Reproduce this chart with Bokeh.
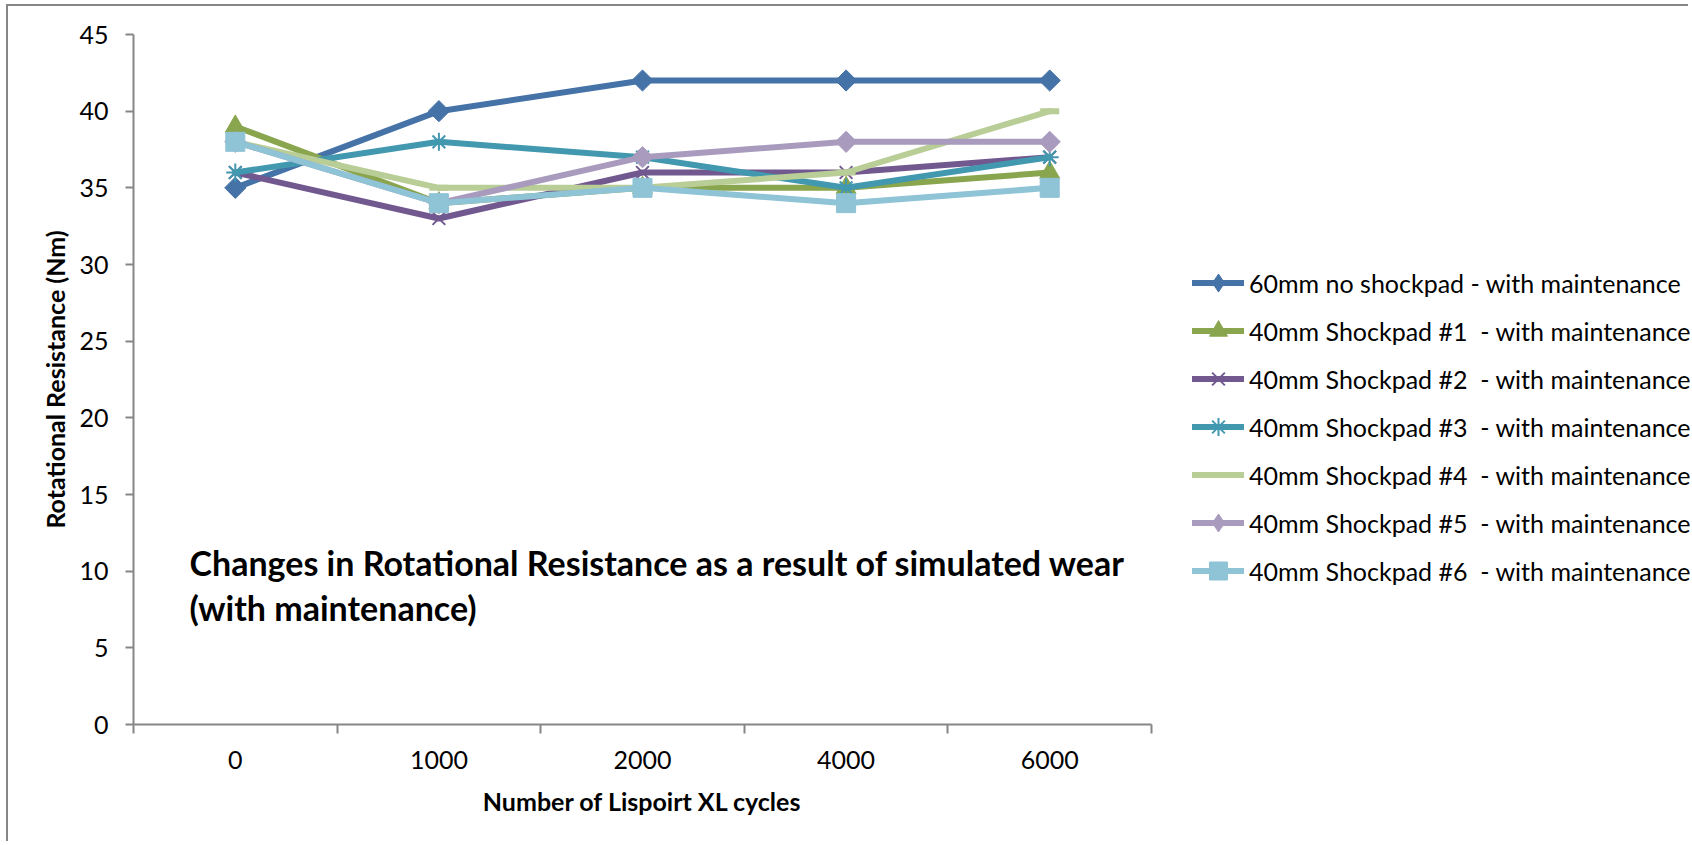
import numpy as np
from bokeh.plotting import figure
from bokeh.models import Range1d, FixedTicker, Legend, LegendItem, Label, LinearAxis
from bokeh.embed import file_html
from bokeh.resources import INLINE

# ---- data -------------------------------------------------------------
cycles = ["0", "1000", "2000", "4000", "6000"]

no_shockpad_60 = [35, 40, 42, 42, 42]
shockpad_1 = [39, 34, 35, 35, 36]
shockpad_2 = [36, 33, 36, 36, 37]
shockpad_3 = [36, 38, 37, 35, 37]
shockpad_4 = [38, 35, 35, 36, 40]
shockpad_5 = [38, 34, 37, 38, 38]
shockpad_6 = [38, 34, 35, 34, 35]

series_names = [
    "60mm no shockpad - with maintenance",
    "40mm Shockpad #1  - with maintenance",
    "40mm Shockpad #2  - with maintenance",
    "40mm Shockpad #3  - with maintenance",
    "40mm Shockpad #4  - with maintenance",
    "40mm Shockpad #5  - with maintenance",
    "40mm Shockpad #6  - with maintenance",
]
series_values = [no_shockpad_60, shockpad_1, shockpad_2, shockpad_3,
                 shockpad_4, shockpad_5, shockpad_6]

y_ticks = [0, 5, 10, 15, 20, 25, 30, 35, 40, 45]

title_line_1 = "Changes in Rotational Resistance as a result of simulated wear"
title_line_2 = "(with maintenance)"
x_title = "Number of Lispoirt XL cycles"
y_title = "Rotational Resistance (Nm)"

# ---- styling ----------------------------------------------------------
FONT = "Lato"
AXIS_GREY = "#868686"
# (colour, plot marker, plot size, angle, legend marker, marker line width)
styles = [
    ("#4572A7", "square", 15, np.pi / 4, "diamond", 1),
    ("#89A54E", "triangle", 20, 0.0, "triangle", 1),
    ("#71588F", "x", 18, 0.0, "x", 2),
    ("#4198AF", "asterisk", 18, 0.0, "asterisk", 2),
    ("#B9CD96", "dash", 19, 0.0, "dash", 6),
    ("#A99BBD", "square", 15, np.pi / 4, "diamond", 1),
    ("#8FC3D6", "square", 19, 0.0, "square", 1),
]

n = len(cycles)
xs = [i + 0.5 for i in range(n)]  # category centres on a 0..n axis

# The frame runs under the legend too; the category axis only covers
# the left CAT_W pixels of it (axis bounds 0..n).
FIG_W = 1682
FRAME_W = FIG_W - 125
CAT_W = 1018
x_end = n * FRAME_W / CAT_W

p = figure(
    width=FIG_W, height=837,
    x_range=Range1d(0, x_end), y_range=Range1d(0, 45),
    output_backend="svg", toolbar_location=None,
    min_border_left=125, min_border_right=0,
    min_border_top=28, min_border_bottom=119,
)
p.margin = (4, 0, 0, 6)
p.styles = {"border-left": f"2px solid {AXIS_GREY}", "border-top": f"2px solid {AXIS_GREY}"}
p.outline_line_color = None
p.background_fill_color = "white"
p.border_fill_color = "white"
p.xgrid.visible = False
p.ygrid.visible = False

# x axis: labels at category centres, tick marks between categories
xa = p.xaxis[0]
xa.bounds = (0, n)
xa.ticker = FixedTicker(ticks=xs, minor_ticks=list(range(n + 1)))
xa.major_label_overrides = {x: c for x, c in zip(xs, cycles)}
xa.major_tick_out = 0
xa.major_tick_in = 0
xa.minor_tick_out = 9
xa.minor_tick_in = 0
xa.minor_tick_line_color = AXIS_GREY
xa.minor_tick_line_width = 2
xa.axis_line_color = AXIS_GREY
xa.axis_line_width = 2
xa.major_label_standoff = 17
xa.major_label_text_font = FONT
xa.major_label_text_font_size = "25px"
xa.major_label_text_color = "black"

# x title, centred under the category span
title_axis = LinearAxis(
    ticker=FixedTicker(ticks=[n / 2], minor_ticks=[]),
    major_label_overrides={n / 2: x_title},
    axis_line_color=None, major_tick_line_color=None, minor_tick_line_color=None,
    major_tick_out=0, major_tick_in=0,
    major_label_standoff=14,
    major_label_text_font=FONT, major_label_text_font_style="bold",
    major_label_text_font_size="25px", major_label_text_color="black",
)
p.add_layout(title_axis, "below")

ya = p.yaxis[0]
ya.ticker = FixedTicker(ticks=y_ticks)
ya.major_tick_out = 8
ya.major_tick_in = 0
ya.minor_tick_out = 0
ya.minor_tick_in = 0
ya.major_tick_line_color = AXIS_GREY
ya.major_tick_line_width = 2
ya.axis_line_color = AXIS_GREY
ya.axis_line_width = 2
ya.major_label_standoff = 17
ya.major_label_text_font = FONT
ya.major_label_text_font_size = "25px"
ya.major_label_text_color = "black"
ya.axis_label = y_title
ya.axis_label_text_font = FONT
ya.axis_label_text_font_style = "bold"
ya.axis_label_text_font_size = "25px"
ya.axis_label_text_color = "black"
ya.axis_label_standoff = 6

# ---- series -----------------------------------------------------------
items = []
for name, vals, (col, mk, sz, ang, leg_mk, mlw) in zip(series_names, series_values, styles):
    line_r = p.line(xs, vals, line_color=col, line_width=6,
                    line_join="round", line_cap="round")
    filled = mk in ("square", "triangle")
    p.scatter(xs, vals, marker=mk, size=sz, angle=ang,
              fill_color=col if filled else None, line_color=col,
              line_width=mlw)
    # legend swatch marker (drawn only inside the legend)
    leg_r = p.scatter([np.nan], [np.nan], marker=leg_mk,
                      fill_color=col if leg_mk in ("diamond", "square", "triangle") else None,
                      line_color=col, line_width=mlw)
    items.append(LegendItem(label=name, renderers=[line_r, leg_r]))

legend = Legend(
    items=items, location=(1059, 131),
    padding=0, margin=0, spacing=3,
    glyph_width=52, glyph_height=45, label_standoff=5,
    label_text_font=FONT, label_text_font_size="25px", label_text_color="black",
    border_line_color=None, background_fill_alpha=0,
)
p.add_layout(legend, "center")

# ---- chart title inside the plot area ---------------------------------
for txt, y in ((title_line_1, 162), (title_line_2, 117)):
    p.add_layout(Label(
        x=56, y=y, x_units="screen", y_units="screen", text=txt,
        text_font=FONT, text_font_style="bold", text_font_size="34px",
        text_color="black", text_baseline="alphabetic", text_align="left",
    ))

open("out.html", "w").write(file_html(p, INLINE))
